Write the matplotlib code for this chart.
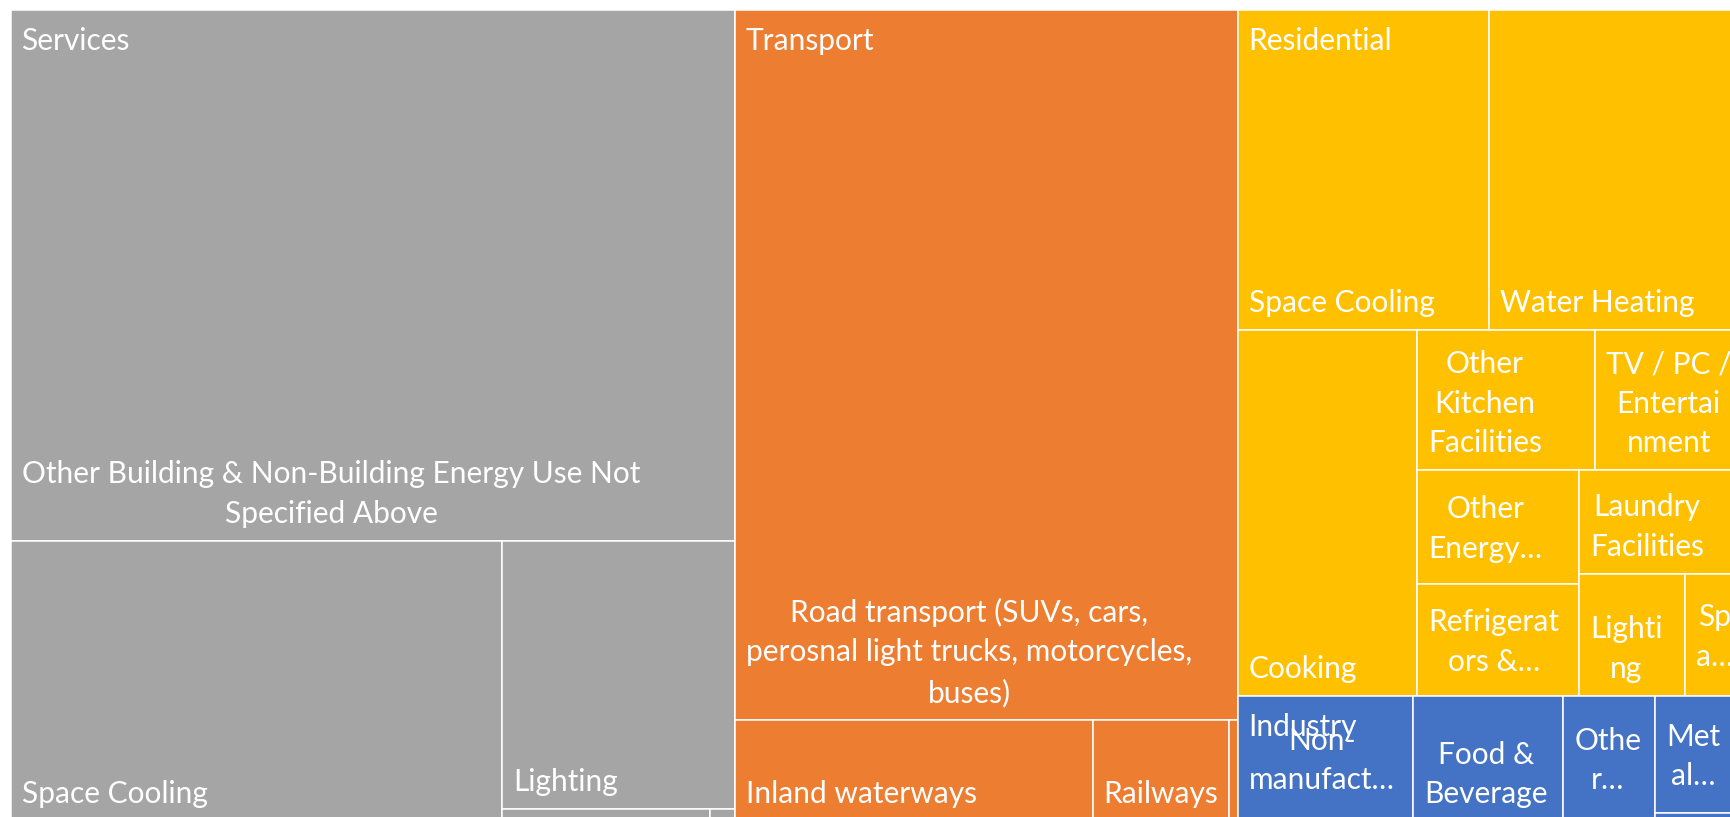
import matplotlib
matplotlib.use("Agg")
import matplotlib.pyplot as plt
from matplotlib.patches import Rectangle
from matplotlib.font_manager import FontProperties

# ---------------- data ----------------
sectors = ["Services", "Transport", "Residential", "Industry"]
sector_colors = ["#A5A5A5", "#ED7D31", "#FFC000", "#4472C4"]

services_names = ["Other Building & Non-Building Energy Use Not Specified Above",
                  "Space Cooling", "Lighting", "Water Heating", "Cooking"]
services_values = [384.4, 137.5, 62.4, 2.5, 0.3]
services_labels = ["Other Building & Non-Building Energy Use Not\nSpecified Above",
                   "Space Cooling", "Lighting", "", ""]

transport_names = ["Road transport (SUVs, cars, perosnal light trucks, motorcycles, buses)",
                   "Inland waterways", "Railways", "Domestic aviation"]
transport_values = [357.1, 36.1, 13.8, 0.9]
transport_labels = ["Road transport (SUVs, cars,\nperosnal light trucks, motorcycles,\nbuses)",
                    "Inland waterways", "Railways", ""]

residential_names = ["Space Cooling", "Water Heating", "Cooking", "Other Kitchen Facilities",
                     "TV / PC / Entertainment", "Other Energy Consuming Appliances",
                     "Refrigerators & Freezers", "Laundry Facilities", "Lighting", "Space Heating"]
residential_values = [80.3, 80.3, 65.5, 24.9, 20.3, 18.5, 18.1, 16.7, 12.9, 6.7]
residential_labels = ["Space Cooling", "Water Heating", "Cooking", "Other\nKitchen\nFacilities",
                      "TV / PC /\nEntertai\nnment", "Other\nEnergy…", "Refrigerat\nors &…",
                      "Laundry\nFacilities", "Lighti\nng", "Sp\na…"]

industry_names = ["Non-manufacturing", "Food & Beverage", "Other Industries",
                  "Metal Products", "Textiles"]
industry_values = [21.9, 18.8, 11.5, 9.9, 0.7]
industry_labels = ["Non-\nmanufact…", "Food &\nBeverage", "Othe\nr…", "Met\nal…", ""]

children_values = [services_values, transport_values, residential_values, industry_values]
children_labels = [services_labels, transport_labels, residential_labels, industry_labels]

# ---------------- layout (squarified treemap) ----------------
FIG_W, FIG_H = 1731, 817
X0, Y0, TW, TH = 11, 10, 1729, 811   # chart area (extends past figure edge, as in the reference)


def worst(row, side):
    s = sum(row)
    return max(max(side * side * r / (s * s), (s * s) / (side * side * r)) for r in row)


def squarify(areas, x, y, w, h):
    rects = []
    i = 0
    n = len(areas)
    while i < n:
        side = min(w, h)
        row = [areas[i]]
        j = i + 1
        while j < n and worst(row + [areas[j]], side) <= worst(row, side):
            row.append(areas[j])
            j += 1
        s = sum(row)
        if w >= h:
            cw = s / h
            yy = y
            for a in row:
                rh = a / cw
                rects.append((x, yy, cw, rh))
                yy += rh
            x += cw
            w -= cw
        else:
            rh = s / w
            xx = x
            for a in row:
                rw = a / rh
                rects.append((xx, y, rw, rh))
                xx += rw
            y += rh
            h -= rh
        i = j
    return rects


totals = [sum(v) for v in children_values]
scale = TW * TH / sum(totals)
order = sorted(range(len(sectors)), key=lambda k: -totals[k])
parent_rects = squarify([totals[k] * scale for k in order], X0, Y0, TW, TH)

fig = plt.figure(figsize=(FIG_W / 100, FIG_H / 100), dpi=100)
fig.patch.set_facecolor("white")
ax = fig.add_axes([0, 0, 1, 1])
ax.set_xlim(0, FIG_W)
ax.set_ylim(FIG_H, 0)
ax.axis("off")

fp = FontProperties(family=["Lato", "DejaVu Sans"], size=21.5)
renderer = fig.canvas.get_renderer()
_, lp_h, lp_d = renderer.get_text_width_height_descent("lp", fp, ismath=False)
linesp = 34.5 / (lp_h - lp_d)

for k, prect in zip(order, parent_rects):
    px, py, pw, ph = prect
    vals = children_values[k]
    labs = children_labels[k]
    corder = sorted(range(len(vals)), key=lambda c: -vals[c])
    crects = squarify([vals[c] * scale for c in corder], px, py, pw, ph)
    for c, (cx, cy, cw, ch) in zip(corder, crects):
        ax.add_patch(Rectangle((cx, cy), cw, ch, facecolor=sector_colors[k],
                               edgecolor="white", linewidth=1.1))
        lab = labs[c]
        if not lab:
            continue
        if "…" in lab:
            ax.text(cx + 11, cy + ch / 2 + 2, lab, color="white", fontproperties=fp,
                    ha="left", va="center", multialignment="center", linespacing=linesp)
        else:
            ax.text(cx + 11, cy + ch - 13, lab, color="white", fontproperties=fp,
                    ha="left", va="bottom", multialignment="center", linespacing=linesp)
    ax.text(px + 10, py + 40, sectors[k], color="white", fontproperties=fp,
            ha="left", va="baseline")

fig.savefig("out.png", dpi=100, facecolor="white")
